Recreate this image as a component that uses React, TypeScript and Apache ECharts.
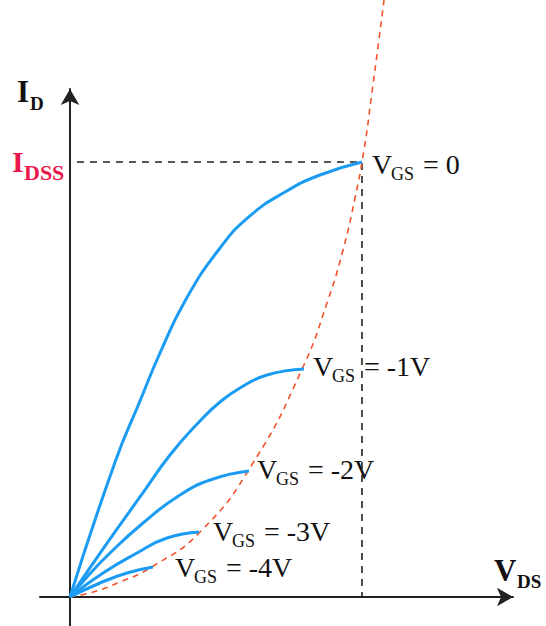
import React, { useEffect, useRef } from "react";
import * as echarts from "echarts";

// Data units: VDS in volts, ID in mA (IDSS = 10 mA)
const vgs0: number[][] = [[0, 0], [0.776, 3.1], [1.207, 4.506], [1.552, 5.609], [1.983, 6.805], [2.586, 8.023], [3.103, 8.759], [3.707, 9.31], [4.31, 9.701], [5.034, 10.0]];
const vgs1: number[][] = [[0, 0], [0.603, 1.172], [1.207, 2.299], [1.724, 3.264], [2.241, 4.046], [2.586, 4.483], [2.931, 4.805], [3.397, 5.103], [4.034, 5.241]];
const vgs2: number[][] = [[0, 0], [0.293, 0.46], [0.69, 1.011], [1.259, 1.701], [1.845, 2.299], [2.414, 2.69], [3.086, 2.897]];
const vgs3: number[][] = [[0, 0], [0.569, 0.552], [1.155, 1.011], [1.672, 1.356], [2.224, 1.494]];
const vgs4: number[][] = [[0, 0], [0.517, 0.322], [0.983, 0.552], [1.431, 0.69]];
const pinchLocus: number[][] = [[0, 0], [0.397, 0.115], [0.862, 0.345], [1.379, 0.667], [2.241, 1.494], [3.155, 3.08], [4.017, 5.287], [4.448, 6.828], [4.707, 7.977], [4.914, 9.172], [5.069, 10.276], [5.207, 11.609], [5.31, 12.644], [5.414, 13.724]];
const idss = 10.0;
const vdsAtIdss = 5.034;
const idssGuide: number[][] = [[0.12, idss], [vdsAtIdss, idss], [vdsAtIdss, 0]];

const curveNames = ["0", "-1V", "-2V", "-3V", "-4V"];
const curves = [vgs0, vgs1, vgs2, vgs3, vgs4];

const SERIF = "Liberation Serif";
const BLUE = "#1b9cf2";
const RED = "#f2532b";
const PINK = "#e8194a";

function txt(text: string, x: number, baseline: number, size: number, bold: boolean, fill: string) {
  return {
    type: "text",
    x,
    y: baseline - 0.86 * size,
    style: {
      text,
      fontFamily: SERIF,
      fontSize: size,
      fontWeight: bold ? "bold" : "normal",
      fill,
      verticalAlign: "top",
      align: "left",
    },
  };
}

export default function App() {
  const ref = useRef<HTMLDivElement>(null);
  useEffect(() => {
    document.body.style.margin = "0";
    const chart = echarts.init(ref.current!, undefined, { renderer: "svg" });

    const labelPos = [
      { x: 372, y: 175 },
      { x: 313, y: 377 },
      { x: 257, y: 480 },
      { x: 213, y: 542 },
      { x: 175, y: 578 },
    ];
    const labelGraphics: any[] = [];
    labelPos.forEach((p, i) => {
      labelGraphics.push(txt("V", p.x, p.y, 28, false, "#111"));
      labelGraphics.push(txt("GS", p.x + 19, p.y + 5, 18, false, "#111"));
      labelGraphics.push(txt("= " + curveNames[i], p.x + 51, p.y, 28, false, "#111"));
    });

    const series: any[] = [
      {
        type: "line",
        data: pinchLocus,
        smooth: 0.5,
        showSymbol: false,
        clip: false,
        lineStyle: { color: RED, width: 1.6, type: [6, 5] },
        z: 2,
      },
      {
        type: "line",
        data: idssGuide,
        showSymbol: false,
        lineStyle: { color: "#222", width: 1.6, type: [7, 6] },
        z: 1,
      },
      ...curves.map((c) => ({
        type: "line",
        data: c,
        smooth: 0.5,
        showSymbol: false,
        lineStyle: { color: BLUE, width: 3 },
        z: 3,
      })),
    ];

    chart.setOption({
      animation: false,
      grid: { left: 40, right: 33, top: 89, bottom: 0 },
      xAxis: {
        type: "value",
        min: -30 / 58,
        max: 443 / 58,
        axisLine: { show: true, onZero: true, symbol: ["none", "arrow"], symbolSize: [14, 16], lineStyle: { color: "#222", width: 2 } },
        axisTick: { show: false },
        axisLabel: { show: false },
        splitLine: { show: false },
      },
      yAxis: {
        type: "value",
        min: -29 / 43.5,
        max: 508 / 43.5,
        axisLine: { show: true, onZero: true, symbol: ["none", "arrow"], symbolSize: [14, 16], lineStyle: { color: "#222", width: 2 } },
        axisTick: { show: false },
        axisLabel: { show: false },
        splitLine: { show: false },
      },
      series,
      graphic: [
        txt("I", 17, 103, 31, true, "#111"),
        txt("D", 30, 110, 19, true, "#111"),
        txt("I", 12, 172, 30, true, PINK),
        txt("DSS", 24, 180, 22, true, PINK),
        txt("V", 494, 582, 31, true, "#111"),
        txt("DS", 517, 588, 19, true, "#111"),
        ...labelGraphics,
      ],
    });
    return () => chart.dispose();
  }, []);
  return <div ref={ref} style={{ position: "fixed", left: 0, top: 0, width: 546, height: 626, background: "#fff" }} />;
}
